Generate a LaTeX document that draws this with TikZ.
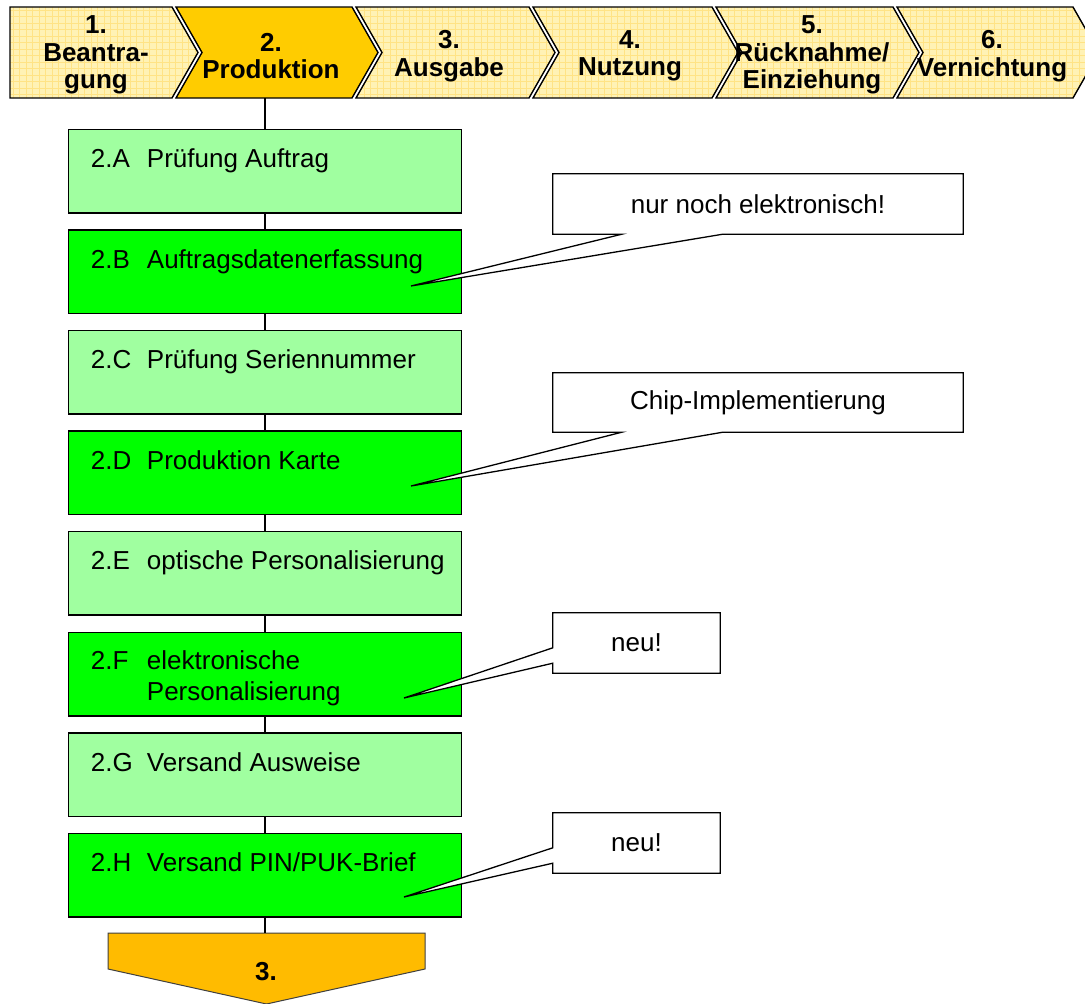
\documentclass[tikz,border=0pt]{standalone}
\usepackage{fontspec}
\setmainfont{Liberation Sans}
\usetikzlibrary{calc}
\pgfdeclarelayer{front}
\pgfsetlayers{main,front}

\definecolor{paleyellow}{HTML}{FFF2B5}
\definecolor{gridyellow}{HTML}{FFE385}
\definecolor{gold}{HTML}{FFCC00}
\definecolor{amber}{HTML}{FFBB00}
\definecolor{palegreen}{HTML}{A0FFA0}
\definecolor{brightgreen}{HTML}{00FF00}

% graph-paper fill for the pale phase arrows
\newcommand\papergrid[2]{%
  \foreach \gx in {0,6.5,...,1100}{\draw[gridyellow, line width=0.5pt] (\gx,0) -- (\gx,104);}%
  \foreach \gy in {3.5,10,...,104}{\draw[gridyellow, line width=0.5pt] (#1,\gy) -- (#2,\gy);}%
}

\begin{document}
\begin{tikzpicture}[x=1pt,y=-1pt,
  phase/.style={draw=black, line width=1.4pt, line join=miter},
  phasetext/.style={font=\bfseries\fontsize{26}{27.5}\selectfont, align=center, inner sep=0pt},
  stepbox/.style={draw=black, line width=1.5pt, minimum width=393pt, minimum height=83.5pt, inner sep=0pt, anchor=north},
  light/.style={stepbox, fill=palegreen},
  dark/.style={stepbox, fill=brightgreen},
  steptext/.style={font=\fontsize{26}{31}\selectfont, anchor=base west, inner sep=0pt},
  note/.style={font=\fontsize{26}{31}\selectfont, inner sep=0pt},
  noteline/.style={draw=black, fill=white, line width=1.3pt, line join=miter},
  link/.style={draw=black, line width=1.4pt}
]
\useasboundingbox (0,0) rectangle (1085,1004);
\clip (0,0) rectangle (1085,1004);
\fill[white] (0,0) rectangle (1085,1004);

% ---- process phases along the top ----
% phase 1 (flat left end)
\begin{scope}
  \clip (10,7) -- (172,7) -- (198,52.5) -- (172,98) -- (10,98) -- cycle;
  \fill[paleyellow] (10,7) rectangle (198,98);
  \papergrid{10}{200}
\end{scope}
\draw[phase] (10,7) -- (172,7) -- (198,52.5) -- (172,98) -- (10,98) -- cycle;

% phase 2 (current phase, highlighted)
\fill[gold] (176,7) -- (352,7) -- (378,52.5) -- (352,98) -- (176,98) -- (202,52.5) -- cycle;
\draw[phase] (176,7) -- (352,7) -- (378,52.5) -- (352,98) -- (176,98) -- (202,52.5) -- cycle;

% phases 3 to 6
\begin{scope}
  \clip (356,7) -- (529,7) -- (555,52.5) -- (529,98) -- (356,98) -- (382,52.5) -- cycle
        (533,7) -- (712,7) -- (738,52.5) -- (712,98) -- (533,98) -- (559,52.5) -- cycle
        (716,7) -- (893,7) -- (919,52.5) -- (893,98) -- (716,98) -- (742,52.5) -- cycle
        (897,7) -- (1073,7) -- (1099,52.5) -- (1073,98) -- (897,98) -- (923,52.5) -- cycle;
  \fill[paleyellow] (356,7) rectangle (1100,98);
  \papergrid{356}{1100}
\end{scope}
\foreach \L/\R in {356/529, 533/712, 716/893, 897/1073}{
  \draw[phase] (\L,7) -- (\R,7) -- (\R+26,52.5) -- (\R,98) -- (\L,98) -- (\L+26,52.5) -- cycle;
}

\node[phasetext] (ph1) at (96,55) {1.\\Beantra-\\gung};
\node[phasetext] (ph2) at (271,56) {2.\\Produktion};
\node[phasetext] (ph3) at (449,56) {3.\\Ausgabe};
\node[phasetext] (ph4) at (630,56) {4.\\Nutzung};
\node[phasetext] (ph5) at (812,55) {5.\\Rücknahme/\\Einziehung};
\node[phasetext] (ph6) at (992,56) {6.\\Vernichtung};
\coordinate (ph2bottom) at (265,98);

% ---- sub-steps of phase 2 ----
\node[light] (A) at (265,128.5) {};
\node[dark]  (B) at (265,229.1) {};
\node[light] (C) at (265,329.7) {};
\node[dark]  (D) at (265,430.3) {};
\node[light] (E) at (265,530.9) {};
\node[dark]  (F) at (265,631.5) {};
\node[light] (G) at (265,732.1) {};
\node[dark]  (H) at (265,832.7) {};

\node[steptext] (Atext) at ($(A.north west)+(23,39)$) {\makebox[56pt][l]{2.A}Prüfung Auftrag};
\node[steptext] (Btext) at ($(B.north west)+(23,39)$) {\makebox[56pt][l]{2.B}Auftragsdatenerfassung};
\node[steptext] (Ctext) at ($(C.north west)+(23,39)$) {\makebox[56pt][l]{2.C}Prüfung Seriennummer};
\node[steptext] (Dtext) at ($(D.north west)+(23,39)$) {\makebox[56pt][l]{2.D}Produktion Karte};
\node[steptext] (Etext) at ($(E.north west)+(23,39)$) {\makebox[56pt][l]{2.E}optische Personalisierung};
\node[steptext] (Ftext) at ($(F.north west)+(23,38)$) {\vtop{\hbox{\makebox[56pt][l]{2.F}elektronische}\hbox{\hspace*{56pt}Personalisierung}}};
\node[steptext] (Gtext) at ($(G.north west)+(23,39)$) {\makebox[56pt][l]{2.G}Versand Ausweise};
\node[steptext] (Htext) at ($(H.north west)+(23,39)$) {\makebox[56pt][l]{2.H}Versand PIN/PUK-Brief};

% ---- hand-over to phase 3 ----
\coordinate (nexttop) at (265,933);
\fill[amber] (108,933) -- (425,933) -- (425,969) -- (266.5,1004) -- (108,969) -- cycle;
\draw[black!75, line width=1pt] (108,933) -- (425,933) -- (425,969) -- (266.5,1004) -- (108,969) -- cycle;
\node[phasetext] (next) at (266,972) {3.};

% ---- connectors ----
\draw[link] (ph2bottom) -- (A.north);
\draw[link] (A.south) -- (B.north);
\draw[link] (B.south) -- (C.north);
\draw[link] (C.south) -- (D.north);
\draw[link] (D.south) -- (E.north);
\draw[link] (E.south) -- (F.north);
\draw[link] (F.south) -- (G.north);
\draw[link] (G.south) -- (H.north);
\draw[link] (H.south) -- (nexttop);

% ---- remarks ----
\begin{pgfonlayer}{front}
  \node[note, minimum width=410pt, minimum height=60pt] (n1) at (758,204) {nur noch elektronisch!};
  \node[note, minimum width=410pt, minimum height=59pt] (n2) at (758,402.5) {Chip-Implementierung};
  \node[note, minimum width=167pt, minimum height=60pt] (n3) at (636.5,643) {neu!};
  \node[note, minimum width=167pt, minimum height=60pt] (n4) at (636.5,843) {neu!};
\end{pgfonlayer}
\coordinate (tip1) at (411,286);
\coordinate (tip2) at (411,486);
\coordinate (tip3) at (404,698);
\coordinate (tip4) at (404,897);

\draw[noteline] (n1.north west) -- (n1.north east) -- (n1.south east)
  -- ($(n1.south west)+(170,0)$) -- (tip1) -- ($(n1.south west)+(69,0)$) -- (n1.south west) -- cycle;
\draw[noteline] (n2.north west) -- (n2.north east) -- (n2.south east)
  -- ($(n2.south west)+(170,0)$) -- (tip2) -- ($(n2.south west)+(69,0)$) -- (n2.south west) -- cycle;
\draw[noteline] (n3.north west) -- (n3.north east) -- (n3.south east) -- (n3.south west)
  -- ($(n3.south west)+(0,-10)$) -- (tip3) -- ($(n3.north west)+(0,35)$) -- cycle;
\draw[noteline] (n4.north west) -- (n4.north east) -- (n4.south east) -- (n4.south west)
  -- ($(n4.south west)+(0,-10)$) -- (tip4) -- ($(n4.north west)+(0,35)$) -- cycle;
\end{tikzpicture}
\end{document}
